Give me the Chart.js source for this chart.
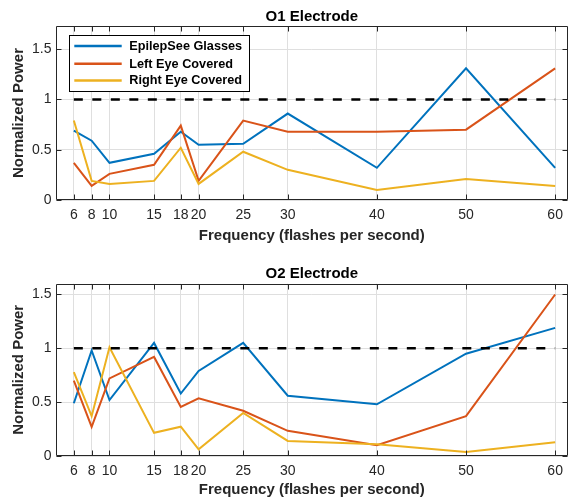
<!DOCTYPE html>
<html><head><meta charset="utf-8">
<script src="https://cdn.jsdelivr.net/npm/chart.js@4.4.0/dist/chart.umd.min.js"></script>
<style>
html,body{margin:0;padding:0;background:#fff;}
#wrap{position:relative;width:570px;height:499px;overflow:hidden;background:#fff;}
canvas{position:absolute;left:0;}
</style></head><body>
<div id="wrap">
<canvas id="c1" width="570" height="250" style="top:0px"></canvas>
<canvas id="c2" width="570" height="249" style="top:250px"></canvas>
</div>
<script>
// ---- data ----
const frequencies = [6, 8, 10, 15, 18, 20, 25, 30, 40, 50, 60];
const xTickValues = [6, 8, 10, 15, 18, 20, 25, 30, 40, 50, 60];
const yTickValues = [0, 0.5, 1, 1.5];
const seriesNames = ['EpilepSee Glasses', 'Left Eye Covered', 'Right Eye Covered'];
const referenceLevel = [1, 1];
const referenceX = [6, 60];

const o1Glasses = [0.69, 0.59, 0.37, 0.46, 0.68, 0.55, 0.56, 0.86, 0.32, 1.31, 0.32];
const o1LeftEye = [0.37, 0.14, 0.26, 0.35, 0.74, 0.19, 0.79, 0.68, 0.68, 0.70, 1.31];
const o1RightEye = [0.79, 0.19, 0.16, 0.19, 0.52, 0.16, 0.48, 0.30, 0.10, 0.21, 0.14];

const o2Glasses = [0.49, 0.98, 0.52, 1.05, 0.58, 0.79, 1.05, 0.56, 0.48, 0.95, 1.19];
const o2LeftEye = [0.70, 0.27, 0.72, 0.92, 0.455, 0.535, 0.42, 0.234, 0.10, 0.37, 1.50];
const o2RightEye = [0.78, 0.37, 1.01, 0.215, 0.272, 0.062, 0.40, 0.14, 0.11, 0.037, 0.127];

// ---- style ----
const FONT = '"Liberation Sans", Arial, Helvetica, sans-serif';
const AXIS_COLOR = '#262626';
const GRID_COLOR = '#dfdfdf';
const COLORS = ['#0072BD', '#D95319', '#EDB120'];

const frameTicks = {
  id: 'frameTicks',
  afterDatasetsDraw(chart) {
    const {ctx, chartArea: a, scales: {x, y}} = chart;
    ctx.save();
    ctx.strokeStyle = AXIS_COLOR;
    ctx.lineWidth = 1;
    const L = Math.round(a.left) + 0.5, R = Math.round(a.right) - 0.5;
    const T = Math.round(a.top) + 0.5, B = Math.round(a.bottom) - 0.5;
    ctx.beginPath();
    ctx.rect(L, T, R - L, B - T);
    const tl = 5;
    x.ticks.forEach(t => {
      const p = Math.round(x.getPixelForValue(t.value)) + 0.5;
      ctx.moveTo(p, B); ctx.lineTo(p, B - tl);
      ctx.moveTo(p, T); ctx.lineTo(p, T + tl);
    });
    y.ticks.forEach(t => {
      const p = Math.round(y.getPixelForValue(t.value)) + 0.5;
      ctx.moveTo(L, p); ctx.lineTo(L + tl, p);
      ctx.moveTo(R, p); ctx.lineTo(R - tl, p);
    });
    ctx.stroke();
    ctx.restore();
  }
};

const boxLegend = {
  id: 'boxLegend',
  afterDraw(chart, args, opts) {
    if (!opts || !opts.show) return;
    const {ctx, chartArea: a} = chart;
    const left = a.left + 13.3, top = a.top + 9, w = 180, h = 56;
    ctx.save();
    ctx.fillStyle = '#fff';
    ctx.fillRect(left, top, w, h);
    ctx.strokeStyle = '#000';
    ctx.lineWidth = 1;
    ctx.strokeRect(Math.round(left) + 0.5, Math.round(top) + 0.5, w, h);
    const rows = [11, 28.6, 45.3];
    ctx.font = 'bold 12.7px ' + FONT;
    ctx.textBaseline = 'middle';
    ctx.textAlign = 'left';
    seriesNames.forEach((name, i) => {
      const ry = top + rows[i];
      ctx.strokeStyle = COLORS[i];
      ctx.lineWidth = 2.5;
      ctx.beginPath();
      ctx.moveTo(left + 5, ry);
      ctx.lineTo(left + 52.4, ry);
      ctx.stroke();
      ctx.fillStyle = '#000';
      ctx.fillText(name, left + 60, ry + 0.5);
    });
    ctx.restore();
  }
};

function toPoints(vals) { return frequencies.map((f, i) => ({x: f, y: vals[i]})); }

function makeChart(id, series, cfg) {
  const datasets = series.map((vals, i) => ({
    label: seriesNames[i],
    data: toPoints(vals),
    borderColor: COLORS[i],
    borderWidth: 2,
    pointRadius: 0,
    tension: 0,
    fill: false,
    order: 3 - i
  }));
  datasets.push({
    label: 'reference',
    data: referenceX.map((xv, i) => ({x: xv, y: referenceLevel[i]})),
    borderColor: '#000',
    borderWidth: 2.5,
    borderDash: [9, 9.5],
    pointRadius: 0,
    fill: false,
    order: 0
  });
  return new Chart(document.getElementById(id), {
    type: 'line',
    data: {datasets},
    plugins: [frameTicks, boxLegend],
    options: {
      responsive: false,
      animation: false,
      devicePixelRatio: 1,
      layout: {padding: {left: 0, right: 1, top: 0, bottom: 0}},
      plugins: {
        legend: {display: false},
        tooltip: {enabled: false},
        boxLegend: {show: cfg.legend},
        title: {
          display: true, text: cfg.title, fullSize: false, color: '#000',
          font: {family: FONT, size: 15, weight: 'bold'},
          padding: cfg.titlePad
        }
      },
      scales: {
        x: {
          type: 'linear', min: 4, max: 61.4,
          afterBuildTicks: s => { s.ticks = xTickValues.map(v => ({value: v})); },
          afterFit: s => { s.height = cfg.xAxisHeight; },
          grid: {color: GRID_COLOR, drawTicks: false, lineWidth: 1},
          border: {display: false},
          ticks: {padding: 7, color: AXIS_COLOR, autoSkip: false, maxRotation: 0,
                  font: {family: FONT, size: 14}, callback: v => String(v)},
          title: {display: true, text: 'Frequency (flashes per second)', color: AXIS_COLOR,
                  font: {family: FONT, size: 15, weight: 'bold'},
                  padding: {top: 0, bottom: cfg.xTitleBottom}}
        },
        y: {
          min: 0, max: cfg.ymax,
          afterBuildTicks: s => { s.ticks = yTickValues.map(v => ({value: v})); },
          afterFit: s => { s.width = 56; },
          grid: {color: GRID_COLOR, drawTicks: false, lineWidth: 1},
          border: {display: false},
          ticks: {padding: 4.5, color: AXIS_COLOR, font: {family: FONT, size: 14},
                  callback: v => String(v)},
          title: {display: true, text: 'Normalized Power', color: AXIS_COLOR,
                  font: {family: FONT, size: 15, weight: 'bold'},
                  padding: {top: 9.7, bottom: 0}}
        }
      }
    }
  });
}

makeChart('c1', [o1Glasses, o1LeftEye, o1RightEye], {
  title: 'O1 Electrode', legend: true, ymax: 1.73,
  titlePad: {top: 7.7, bottom: 0.4}, xAxisHeight: 50, xTitleBottom: 5.2
});
makeChart('c2', [o2Glasses, o2LeftEye, o2RightEye], {
  title: 'O2 Electrode', legend: false, ymax: 1.6,
  titlePad: {top: 14.7, bottom: 1.0}, xAxisHeight: 43, xTitleBottom: 0
});
</script>
</body></html>
